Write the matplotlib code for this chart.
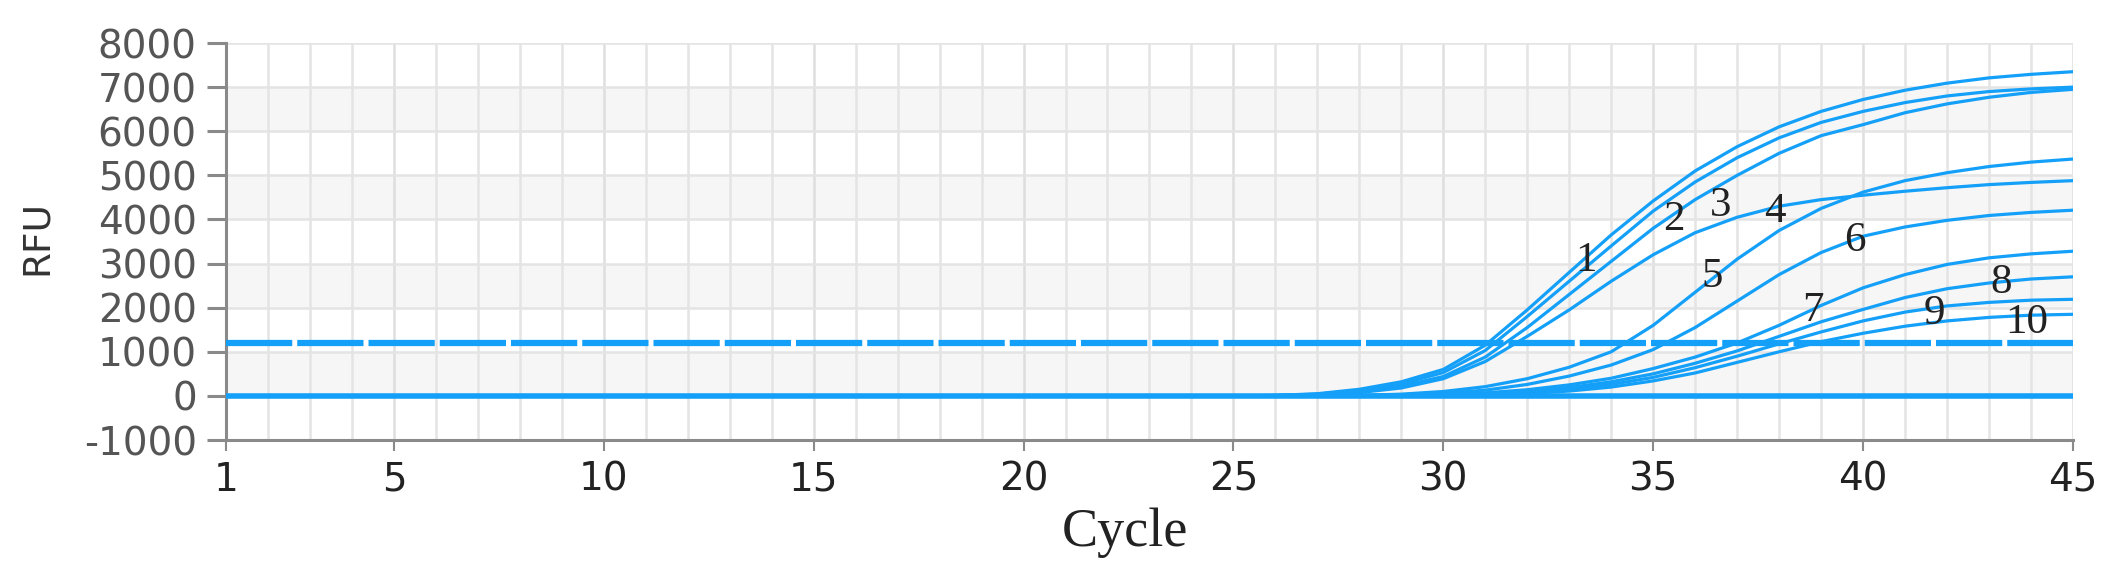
import matplotlib
matplotlib.use('Agg')
import matplotlib.pyplot as plt

plt.rcParams['axes.unicode_minus'] = False

# =============================================================================
# DATA
# =============================================================================

CYCLES_ALL = list(range(1, 46))
CURVE_CYCLES = list(range(24, 46))          # cycles where positives leave baseline

# RFU per cycle (24..45) for the ten positive samples
CURVE_1 = [0, 0, 10, 50, 150, 320, 600, 1150, 1950, 2800, 3650, 4420, 5100,
           5650, 6100, 6450, 6720, 6930, 7090, 7210, 7290, 7350]
CURVE_2 = [0, 0, 10, 40, 120, 270, 530, 1030, 1800, 2600, 3400, 4190, 4850,
           5400, 5850, 6200, 6450, 6650, 6800, 6900, 6960, 7000]
CURVE_3 = [0, 0, 5, 30, 90, 220, 440, 880, 1550, 2300, 3050, 3800, 4450,
           5000, 5500, 5900, 6150, 6420, 6620, 6770, 6880, 6950]
CURVE_4 = [0, 0, 5, 25, 75, 180, 390, 780, 1350, 1950, 2600, 3200, 3700,
           4050, 4300, 4450, 4550, 4640, 4720, 4790, 4840, 4880]
CURVE_5 = [0, 0, 0, 0, 10, 40, 100, 210, 390, 650, 1000, 1600, 2350,
           3100, 3750, 4250, 4620, 4880, 5060, 5200, 5300, 5370]
CURVE_6 = [0, 0, 0, 0, 5, 25, 60, 130, 260, 450, 700, 1050, 1550,
           2150, 2750, 3250, 3620, 3830, 3980, 4090, 4160, 4210]
CURVE_7 = [0, 0, 0, 0, 0, 10, 30, 70, 140, 250, 400, 620, 880,
           1200, 1600, 2050, 2450, 2750, 2980, 3130, 3220, 3280]
CURVE_8 = [0, 0, 0, 0, 0, 5, 20, 50, 100, 190, 320, 500, 740,
           1020, 1350, 1680, 1960, 2230, 2430, 2560, 2650, 2700]
CURVE_9 = [0, 0, 0, 0, 0, 5, 15, 40, 80, 150, 260, 420, 640,
           900, 1180, 1450, 1700, 1900, 2040, 2120, 2170, 2190]
CURVE_10 = [0, 0, 0, 0, 0, 0, 10, 25, 55, 110, 200, 340, 520,
            760, 1000, 1230, 1420, 1580, 1700, 1780, 1830, 1850]

CURVES = [CURVE_1, CURVE_2, CURVE_3, CURVE_4, CURVE_5,
          CURVE_6, CURVE_7, CURVE_8, CURVE_9, CURVE_10]

NEGATIVE_RFU = 0          # flat negative / NTC traces
THRESHOLD = 1200          # fluorescence threshold

# curve number labels: (text, cycle, RFU)
LABELS = ['1', '2', '3', '4', '5', '6', '7', '8', '9', '10']
LABEL_CYCLE = [33.4, 35.5, 36.6, 37.9, 36.4, 39.8, 38.8, 43.3, 41.7, 43.9]
LABEL_RFU = [3060, 3990, 4320, 4170, 2700, 3515, 1925, 2560, 1860, 1655]

X_TICKS = [1, 5, 10, 15, 20, 25, 30, 35, 40, 45]
Y_TICKS = list(range(-1000, 8001, 1000))

# =============================================================================
# PLOT
# =============================================================================

BLUE = '#14a0f8'

fig = plt.figure(figsize=(21.2, 5.87), dpi=100)
ax = fig.add_axes([0.1066, 0.2504, 0.8712, 0.6763])

ax.set_xlim(CYCLES_ALL[0], CYCLES_ALL[-1])
ax.set_ylim(Y_TICKS[0], Y_TICKS[-1])

# alternating light bands
for lo, hi in zip(Y_TICKS[1::2], Y_TICKS[2::2]):
    ax.axhspan(lo, hi, color='#f6f6f6', zorder=0, lw=0)

ax.set_xticks(X_TICKS)
ax.set_xticks(CYCLES_ALL, minor=True)
ax.set_yticks(Y_TICKS)
ax.grid(True, which='minor', axis='x', color='#e4e4e4', lw=1.8, zorder=1)
ax.grid(True, which='major', axis='x', color='#dedede', lw=1.8, zorder=1)
ax.grid(True, which='major', axis='y', color='#e4e4e4', lw=1.8, zorder=1)
ax.set_axisbelow(True)

# negatives and threshold
ax.axhline(NEGATIVE_RFU, color=BLUE, lw=4, zorder=3)
ax.axhline(THRESHOLD, color=BLUE, lw=4.5, dashes=(10.6, 0.8), zorder=3)

for vals in CURVES:
    ax.plot(CURVE_CYCLES, vals, color=BLUE, lw=2.3, zorder=4,
            solid_joinstyle='round')

for txt, cx, cy in zip(LABELS, LABEL_CYCLE, LABEL_RFU):
    ax.text(cx, cy, txt, fontsize=31, family='Liberation Serif',
            ha='center', va='center', color='#222222', zorder=5)

for side in ('top', 'right'):
    ax.spines[side].set_visible(False)
for side in ('left', 'bottom'):
    ax.spines[side].set_color('#8a8a8a')
    ax.spines[side].set_linewidth(2.2)

ax.tick_params(axis='y', which='major', length=14, width=2.2, color='#8a8a8a',
               labelsize=28, labelcolor='#555555', pad=7)
ax.tick_params(axis='x', which='major', length=8, width=1.5, color='#8a8a8a',
               labelsize=28, labelcolor='#222222', pad=7)
ax.tick_params(axis='x', which='minor', length=0)

fig.text(0.0175, 0.595, 'RFU', rotation=90, fontsize=27, color='#333333',
         ha='center', va='center', family='DejaVu Sans')
fig.text(0.5307, 0.092, 'Cycle', fontsize=39, color='#222222',
         ha='center', va='center', family='Liberation Serif')

fig.savefig('out.png', dpi=100)
plt.close(fig)
